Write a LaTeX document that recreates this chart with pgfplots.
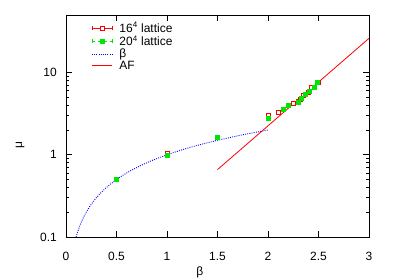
\documentclass[border=0pt]{standalone}
\usepackage{pgfplots}
\pgfplotsset{compat=1.18}
\usepackage{fontspec}
\setmainfont{Liberation Sans}
\definecolor{gpred}{RGB}{255,0,0}
\definecolor{gpgreen}{RGB}{0,230,0}
\definecolor{gpblue}{RGB}{0,0,255}
\begin{document}
\fontsize{12}{14}\selectfont
\begin{tikzpicture}[x=1pt,y=1pt]
\useasboundingbox (-66,-43) rectangle (334,237);
\begin{axis}[
  scale only axis, width=303pt, height=222pt,
  xmin=0, xmax=3, ymin=0.1, ymax=50,
  ymode=log,
  xtick={0,0.5,1,1.5,2,2.5,3},
  ytick={0.1,1,10},
  yticklabels={0.1,1,10},
  log ticks with fixed point,
  /pgf/number format/assume math mode=true,
  tick align=inside,
  major tick length=6pt, minor tick length=3pt,
  tick style={black, line width=0.5pt},
  axis line style={line width=0.6pt},
  xlabel={β}, ylabel={μ},
  xlabel style={at={(axis description cs:0.442,0)}, anchor=center, yshift=-35pt},
  ylabel style={at={(axis description cs:0,0.414)}, anchor=center, yshift=46pt},
  every tick label/.append style={font=\fontsize{12}{14}\selectfont},
  xticklabel style={anchor=center, yshift=-19pt},
  yticklabel style={anchor=east, xshift=-5pt},
  legend style={draw=none, fill=none, at={(axis description cs:0.08,1.04)}, anchor=north west,
    row sep=-2.5pt, font=\fontsize{12}{14}\selectfont, inner sep=1pt},
  legend cell align=left,
]
\addlegendimage{empty legend}
\addlegendentry{\vphantom{16\textsuperscript{4}}}
% clipped-away helper path
\addplot[gpred, forget plot] coordinates {(-1,1) (-0.9,1)};
% 16^4 lattice
\addplot[color=gpred, only marks, mark=square*, mark size=2pt,
  mark options={draw=gpred, fill=white, line width=0.8pt},
  legend image code/.code={
    \draw[gpred, line width=0.8pt] (0pt,0pt) -- (20pt,0pt);
    \draw[gpred, line width=0.8pt] (0pt,-2pt) -- (0pt,2pt) (20pt,-2pt) -- (20pt,2pt);
    \draw[gpred, line width=0.8pt, fill=white] (8pt,-2pt) rectangle (12pt,2pt);
    \path (25pt,0pt);}]
  coordinates {
  (1.0,1.05)
  (1.5,1.62)
  (2.0,3.04)
  (2.1,3.30)
  (2.2,3.95)
  (2.25,4.20)
  (2.3,4.50)
  (2.325,4.75)
  (2.35,5.2)
  (2.4,5.71)
  (2.43,6.65)
  (2.5,7.65)
  };
\addlegendentry{16\textsuperscript{4} lattice}
% 20^4 lattice
\addplot[color=gpgreen, only marks, mark=square*, mark size=2pt,
  mark options={draw=gpgreen, fill=gpgreen},
  legend image code/.code={
    \draw[gpgreen, dashed, line width=0.5pt] (0pt,0pt) -- (20pt,0pt);
    \draw[gpgreen, line width=0.5pt] (0pt,-2pt) -- (0pt,2pt) (20pt,-2pt) -- (20pt,2pt);
    \fill[gpgreen] (8pt,-2pt) rectangle (12pt,2pt);
    \path (25pt,0pt);}]
  coordinates {
  (0.5,0.50)
  (1.0,1.00)
  (1.5,1.65)
  (2.0,2.79)
  (2.15,3.59)
  (2.2,4.02)
  (2.3,4.37)
  (2.33,4.89)
  (2.365,5.47)
  (2.41,5.99)
  (2.46,6.65)
  (2.49,7.56)
  };
\addlegendentry{20\textsuperscript{4} lattice}
% beta
\addplot[gpblue, line width=0.9pt, dash pattern=on 0.9pt off 1.3pt,
  legend image code/.code={\draw[gpblue, line width=1pt, dash pattern=on 1pt off 1.2pt] (0pt,0pt) -- (20pt,0pt); \path (25pt,0pt);}]
  coordinates {
  (0.1,0.1) (0.11,0.11) (0.12,0.12) (0.13,0.13) (0.14,0.14) (0.15,0.15) (0.17,0.17) (0.19,0.19)
  (0.21,0.21) (0.24,0.24) (0.27,0.27) (0.3,0.3) (0.34,0.34) (0.38,0.38) (0.43,0.43) (0.5,0.5)
  (0.57,0.57) (0.65,0.65) (0.75,0.75) (0.85,0.85) (1.0,1.0) (1.15,1.15) (1.3,1.3) (1.5,1.5)
  (1.75,1.75) (2.0,2.0)
  };
\addlegendentry{β}
% AF
\addplot[gpred, line width=0.8pt,
  legend image code/.code={\draw[gpred, line width=1.2pt] (0pt,0pt) -- (20pt,0pt); \path (25pt,0pt);}]
  coordinates {(1.5,0.66) (3.0,26)};
\addlegendentry{AF}
\end{axis}
\end{tikzpicture}
\end{document}
